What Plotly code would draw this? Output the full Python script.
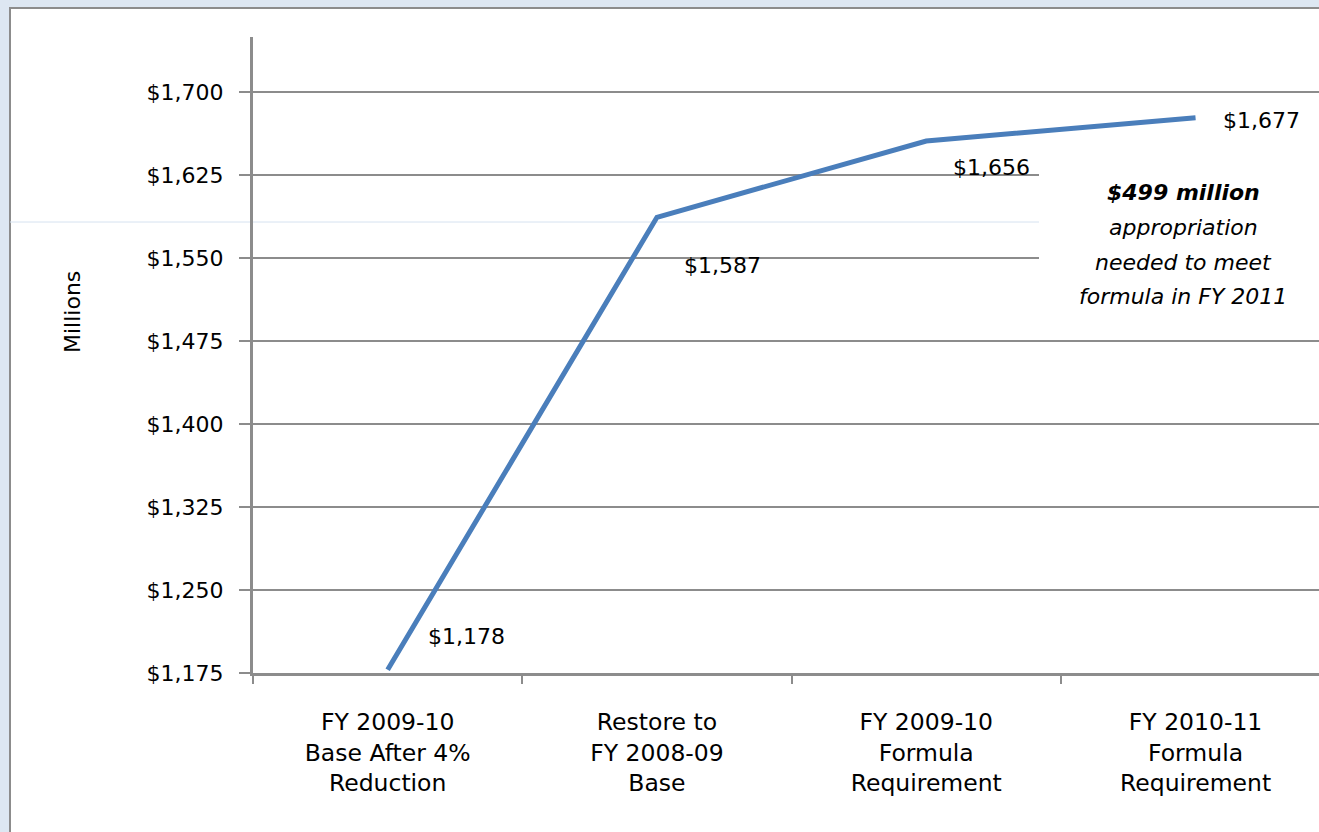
import plotly.graph_objects as go

# Chart data
categories = [
    "FY 2009-10<br>Base After 4%<br>Reduction",
    "Restore to<br>FY 2008-09<br>Base",
    "FY 2009-10<br>Formula<br>Requirement",
    "FY 2010-11<br>Formula<br>Requirement",
]
values = [1178, 1587, 1656, 1677]
# label offsets (px) for the value labels next to each point
label_dx = [38, 25, 25, 25]
label_dy = [33, -48, -27, -3]

note_lines = [
    "<b><i>$499 million</i></b>",
    "<i>appropriation</i>",
    "<i>needed to meet</i>",
    "<i>formula in FY 2011</i>",
]

FONT = "DejaVu Sans"
GREY = "#8c8c8c"
BLUE = "#4a7ebb"

W, H = 1319, 832
L, R, T, B = 253, 0, 37, 159
PW, PH = W - L - R, H - T - B


def px_x(p):
    return (p - L) / PW


def px_y(p):
    return (H - B - p) / PH


fig = go.Figure()
fig.add_trace(go.Scatter(
    x=categories, y=values, mode="lines",
    line=dict(color=BLUE, width=5), hoverinfo="skip", showlegend=False,
))

annotations = []
for i, v in enumerate(values):
    annotations.append(dict(
        x=i, y=v, xref="x", yref="y", text="${:,}".format(v), showarrow=False,
        xanchor="left", yanchor="middle", xshift=label_dx[i], yshift=label_dy[i],
        font=dict(family=FONT, size=22, color="#000"),
    ))

note_y = [192, 227, 262, 296]
for txt, py in zip(note_lines, note_y):
    annotations.append(dict(
        x=px_x(1183), y=px_y(py), xref="paper", yref="paper", text=txt,
        showarrow=False, xanchor="center", yanchor="middle",
        font=dict(family=FONT, size=22, color="#000"),
    ))

annotations.append(dict(
    x=px_x(72), y=px_y(312), xref="paper", yref="paper", text="Millions",
    showarrow=False, textangle=-90, xanchor="center", yanchor="middle",
    font=dict(family=FONT, size=22, color="#000"),
))

shapes = [
    # framed chart area
    dict(type="rect", xref="paper", yref="paper", layer="below",
         x0=px_x(10), x1=1.2, y0=-0.5, y1=px_y(8),
         fillcolor="white", line=dict(color=GREY, width=2)),
    # thin light rule
    dict(type="line", xref="paper", yref="paper", layer="below",
         x0=px_x(10), x1=px_x(1039), y0=px_y(222), y1=px_y(222),
         line=dict(color="#d6e2f0", width=1)),
    # white panel behind the note
    dict(type="rect", xref="paper", yref="paper", layer="above",
         x0=px_x(1039), x1=1.0, y0=px_y(320), y1=px_y(150),
         fillcolor="white", line=dict(width=0)),
]

fig.update_layout(
    width=W, height=H,
    margin=dict(l=L, r=R, t=T, b=B, pad=0),
    paper_bgcolor="#dde7f2",
    plot_bgcolor="rgba(0,0,0,0)",
    font=dict(family=FONT, size=22, color="#000"),
    annotations=annotations,
    shapes=shapes,
    showlegend=False,
)

fig.update_xaxes(
    type="category",
    range=[-0.5, -0.5 + PW / 269.3],
    showgrid=False, zeroline=False,
    showline=True, linecolor=GREY, linewidth=3,
    ticks="outside", tickson="boundaries", ticklen=8, tickwidth=2, tickcolor=GREY,
    tickfont=dict(family=FONT, size=23.5, color="#000"),
    ticklabelstandoff=26,
)
fig.update_yaxes(
    range=[1175, 1750], tick0=1175, dtick=75,
    tickprefix="$", tickformat=",",
    showgrid=True, gridcolor=GREY, gridwidth=2,
    zeroline=False,
    showline=True, linecolor=GREY, linewidth=3,
    ticks="outside", ticklen=11, tickwidth=2, tickcolor=GREY,
    tickfont=dict(family=FONT, size=22, color="#000"),
    ticklabelstandoff=11,
)

fig.write_html("out.html")
